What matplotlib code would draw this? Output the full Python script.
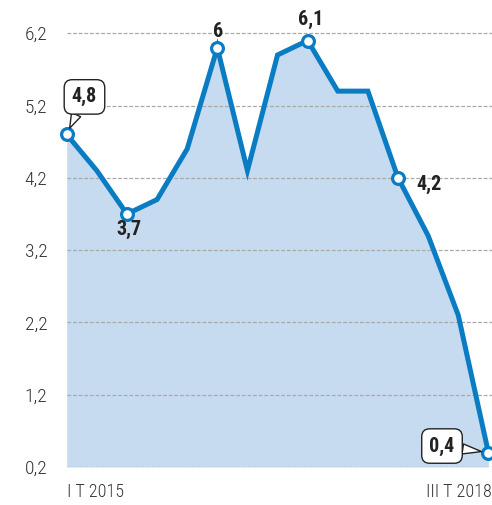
import matplotlib.pyplot as plt
from matplotlib import font_manager

# dati trimestrali
trimestri = ['I T 2015', 'II T 2015', 'III T 2015', 'IV T 2015',
             'I T 2016', 'II T 2016', 'III T 2016', 'IV T 2016',
             'I T 2017', 'II T 2017', 'III T 2017', 'IV T 2017',
             'I T 2018', 'II T 2018', 'III T 2018']
valori = [4.8, 4.3, 3.7, 3.9, 4.6, 6.0, 4.3, 5.9, 6.1, 5.4, 5.4, 4.2, 3.4, 2.3, 0.4]
y_ticks = [0.2, 1.2, 2.2, 3.2, 4.2, 5.2, 6.2]

# punti con etichetta
etichette = {0: '4,8', 2: '3,7', 5: '6', 8: '6,1', 11: '4,2', 14: '0,4'}

# font condensato: il primo disponibile
nomi = {f.name for f in font_manager.fontManager.ttflist}
famiglia = 'DejaVu Sans'
for nome in ['Roboto Condensed', 'Barlow Semi Condensed', 'Archivo Narrow', 'Asap Condensed']:
    if nome in nomi:
        famiglia = nome
        break
plt.rcParams['font.family'] = [famiglia, 'DejaVu Sans']

blu = '#0a7cc3'
riempimento = '#c6dbef'

fig = plt.figure(figsize=(4.92, 5.05), dpi=100)
ax = fig.add_axes([66.7 / 492, 38 / 505, 1 - 66.7 / 492, 467 / 505])

x = list(range(len(valori)))
ax.fill_between(x, 0.2, valori, color=riempimento, zorder=1, lw=0)
for t in y_ticks:
    ax.axhline(t, color='#a9a9a9', lw=0.9, ls=(0, (3, 1.5)), zorder=2)
ax.plot(x, valori, color=blu, lw=3.6, zorder=3, solid_joinstyle='miter')

idx = list(etichette.keys())
ax.plot(idx, [valori[i] for i in idx], 'o', ms=8.5, mfc='white', mec=blu,
        mew=2.3, zorder=4, clip_on=False)

ax.set_xlim(0, 14.12)
ax.set_ylim(0.2, 6.2 + 33.3 / 72.3)
for s in ax.spines.values():
    s.set_visible(False)
ax.set_xticks([])
ax.set_yticks(y_ticks)
ax.set_yticklabels([f'{t:.1f}'.replace('.', ',') for t in y_ticks],
                   fontsize=14, fontweight='light', color='#333333')
ax.tick_params(axis='y', length=0, pad=14)

# etichette asse x
ax.text(0, -0.146, trimestri[0], ha='left', va='center', fontsize=13,
        fontweight='light', color='#333333', clip_on=False)
ax.text(14.12, -0.146, trimestri[-1], ha='right', va='center', fontsize=13,
        fontweight='light', color='#333333', clip_on=False)

testo = dict(fontsize=14.5, fontweight='bold', color='#222222', zorder=5)
box = dict(boxstyle='round,pad=0.38,rounding_size=0.4', fc='white', ec='#222222', lw=1)
freccia = dict(arrowstyle='wedge,tail_width=0.5,shrink_factor=0.5', fc='white',
               ec='#222222', lw=1, shrinkA=0, shrinkB=5)

ax.annotate(etichette[0], (0, valori[0]), xytext=(0.59, 5.32),
            ha='center', va='center', bbox=box, arrowprops=freccia, **testo)
ax.annotate(etichette[14], (14, valori[14]), xytext=(12.46, 0.49),
            ha='center', va='center', bbox=box, arrowprops=freccia, **testo)
ax.text(2.07, 3.48, etichette[2], ha='center', va='center', **testo)
ax.text(5.02, 6.22, etichette[5], ha='center', va='center', **testo)
ax.text(8.11, 6.39, etichette[8], ha='center', va='center', **testo)
ax.text(11.6, 4.11, etichette[11], ha='left', va='center', **testo)

plt.savefig('out.png', dpi=100)
